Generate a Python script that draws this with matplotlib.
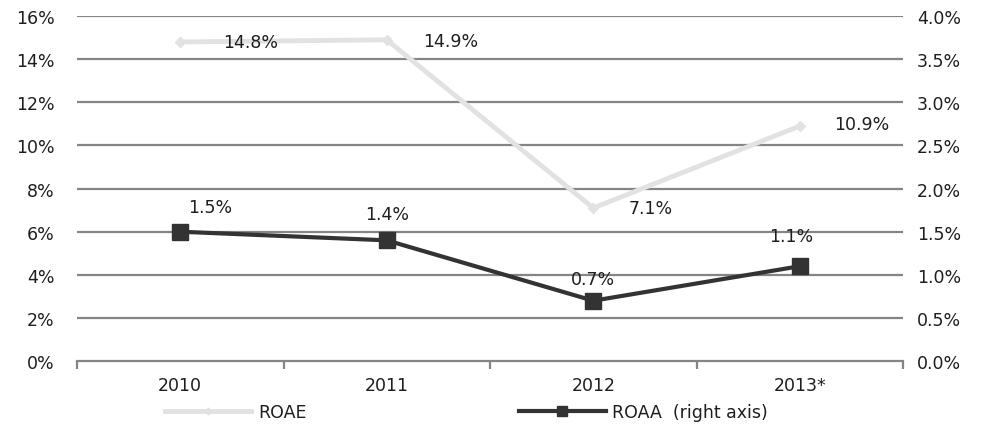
import matplotlib.pyplot as plt
from matplotlib.ticker import FuncFormatter, FixedLocator

# yearly profitability ratios (%)
years = ["2010", "2011", "2012", "2013*"]
roae = [14.8, 14.9, 7.1, 10.9]
roaa = [1.5, 1.4, 0.7, 1.1]

text_col = "#1e1e1e"
grid_col = "#858585"

plt.rcParams["font.family"] = ["DejaVu Sans"]
plt.rcParams["font.size"] = 12.5

fig = plt.figure(figsize=(9.82, 4.27), dpi=100)
ax = fig.add_axes([0.0784, 0.152, 0.8412, 0.808])
ax2 = ax.twinx()

x = list(range(len(years)))

# left axis: ROAE
ax.set_ylim(0, 16)
ax.set_xlim(-0.5, 3.5)
ax.set_yticks(range(0, 17, 2))
ax.yaxis.set_major_formatter(FuncFormatter(lambda v, p: f"{v:.0f}%"))
for v in range(2, 17, 2):
    ax.axhline(v, color=grid_col, lw=1.6, zorder=0)
ax.set_xticks(x)
ax.set_xticklabels(years)
ax.xaxis.set_minor_locator(FixedLocator([-0.5, 0.5, 1.5, 2.5, 3.5]))
ax.tick_params(axis="x", which="major", length=0, pad=11, colors=text_col)
ax.tick_params(axis="x", which="minor", length=6, width=1.6, color=grid_col)
ax.tick_params(axis="y", length=0, pad=16, colors=text_col)
for s in ["top", "left", "right"]:
    ax.spines[s].set_visible(False)
ax.spines["bottom"].set_color(grid_col)
ax.spines["bottom"].set_linewidth(1.6)

ax.plot(x, roae, color="#e2e2e2", lw=3.5, marker="D", markersize=5,
        markerfacecolor="#e2e2e2", markeredgecolor="#e2e2e2", zorder=3, label="ROAE")

# right axis: ROAA
ax2.set_ylim(0, 4)
ax2.set_yticks([i * 0.5 for i in range(9)])
ax2.yaxis.set_major_formatter(FuncFormatter(lambda v, p: f"{v:.1f}%"))
ax2.tick_params(axis="y", length=0, pad=10, colors=text_col)
for s in ["top", "left", "right", "bottom"]:
    ax2.spines[s].set_visible(False)
ax2.plot(x, roaa, color="#333333", lw=3, marker="s", markersize=11,
         zorder=4, label="ROAA  (right axis)")

# value labels
roae_off = [(0.34, 0.0), (0.31, -0.06), (0.28, 0.0), (0.30, 0.1)]
for xi, v, (dx, dy) in zip(x, roae, roae_off):
    ax.text(xi + dx, v + dy, f"{v:.1f}%", ha="center", va="center",
            color=text_col, zorder=5)
roaa_off = [(0.145, 0.29), (0.0, 0.30), (0.0, 0.25), (-0.04, 0.35)]
for xi, v, (dx, dy) in zip(x, roaa, roaa_off):
    ax2.text(xi + dx, v + dy, f"{v:.1f}%", ha="center", va="center",
             color=text_col, zorder=5)

h1, l1 = ax.get_legend_handles_labels()
h2, l2 = ax2.get_legend_handles_labels()
fig.legend(h1 + h2, l1 + l2, loc="lower center", bbox_to_anchor=(0.475, -0.025),
           ncol=2, frameon=False, handlelength=5, columnspacing=12.2,
           handletextpad=0.4, markerscale=0.7, labelcolor=text_col)

fig.savefig("out.png", dpi=100)
